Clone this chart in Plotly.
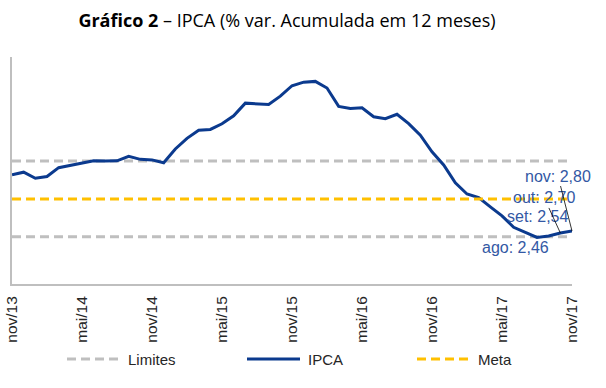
import plotly.graph_objects as go

months = ["nov/13", "dez/13",
          "jan/14", "fev/14", "mar/14", "abr/14", "mai/14", "jun/14", "jul/14", "ago/14", "set/14", "out/14", "nov/14", "dez/14",
          "jan/15", "fev/15", "mar/15", "abr/15", "mai/15", "jun/15", "jul/15", "ago/15", "set/15", "out/15", "nov/15", "dez/15",
          "jan/16", "fev/16", "mar/16", "abr/16", "mai/16", "jun/16", "jul/16", "ago/16", "set/16", "out/16", "nov/16", "dez/16",
          "jan/17", "fev/17", "mar/17", "abr/17", "mai/17", "jun/17", "jul/17", "ago/17", "set/17", "out/17", "nov/17"]
ipca = [5.77, 5.91,
        5.59, 5.68, 6.15, 6.28, 6.37, 6.52, 6.50, 6.51, 6.75, 6.59, 6.56, 6.41,
        7.14, 7.70, 8.13, 8.17, 8.47, 8.89, 9.56, 9.53, 9.49, 9.93, 10.48, 10.67,
        10.71, 10.36, 9.39, 9.28, 9.32, 8.84, 8.74, 8.97, 8.48, 7.87, 6.99, 6.29,
        5.35, 4.76, 4.57, 4.08, 3.60, 3.00, 2.71, 2.46, 2.54, 2.70, 2.80]
limite_sup = 6.5
limite_inf = 2.5
meta = 4.5
tick_labels = ["nov/13", "mai/14", "nov/14", "mai/15", "nov/15", "mai/16", "nov/16", "mai/17", "nov/17"]
labelled = [("ago/17", "ago: 2,46"), ("set/17", "set: 2,54"), ("out/17", "out: 2,70"), ("nov/17", "nov: 2,80")]
legend_names = ["Limites", "IPCA", "Meta"]

GRAY = "#BFBFBF"
BLUE = "#0B3A8E"
GOLD = "#FFC000"
LBLUE = "#3358A4"
FONT = "Arial, Liberation Sans, sans-serif"
DASH = "9px,5px"

W, H = 606, 388
L, R, T, B = 12, 34, 57, 104
PW, PH = W - L - R, H - T - B


def px(x):
    return (x - L) / PW


def py(y):
    return (H - B - y) / PH


fig = go.Figure()
fig.add_trace(go.Scatter(x=months, y=[limite_sup] * len(months), mode="lines", name=legend_names[0],
                         line=dict(color=GRAY, width=3, dash=DASH), showlegend=False))
fig.add_trace(go.Scatter(x=months, y=[limite_inf] * len(months), mode="lines", name=legend_names[0],
                         line=dict(color=GRAY, width=3, dash=DASH), showlegend=False))
fig.add_trace(go.Scatter(x=months, y=ipca, mode="lines", name=legend_names[1],
                         line=dict(color=BLUE, width=3), showlegend=False))
fig.add_trace(go.Scatter(x=months, y=[meta] * len(months), mode="lines", name=legend_names[2],
                         line=dict(color=GOLD, width=3, dash=DASH), showlegend=False))

# custom legend (line sample + text), positioned in pixels
leg_y = 359
leg_items = [(legend_names[0], GRAY, DASH, 67, 123, 126),
             (legend_names[1], BLUE, "solid", 247, 300, 306),
             (legend_names[2], GOLD, DASH, 417, 471, 476)]
for name, color, dash, x0, x1, tx in leg_items:
    fig.add_shape(type="line", xref="paper", yref="paper", x0=px(x0), x1=px(x1), y0=py(leg_y), y1=py(leg_y),
                  line=dict(color=color, width=3, dash=dash))
    fig.add_annotation(xref="paper", yref="paper", x=px(tx), y=py(leg_y), xanchor="left", yanchor="middle",
                       text=name, showarrow=False, font=dict(family=FONT, size=15, color="#262626"))

val = dict(zip(months, ipca))
offsets = {"ago/17": (-22, 10, False), "set/17": (-11, -19, False),
           "out/17": (-16, -35, True), "nov/17": (-14, -55, True)}
for m, txt in labelled:
    ax, ay, arrow = offsets[m]
    if arrow:
        fig.add_annotation(x=m, y=val[m], text=txt, showarrow=True, arrowhead=0, arrowwidth=0.8,
                           arrowcolor="#000000", ax=ax, ay=ay, standoff=0,
                           font=dict(family=FONT, size=16, color=LBLUE))
    else:
        fig.add_annotation(x=m, y=val[m], text=txt, showarrow=False, xshift=ax, yshift=-ay,
                           font=dict(family=FONT, size=16, color=LBLUE))

fig.update_layout(
    width=W, height=H,
    margin=dict(l=L, r=R, t=T, b=B, autoexpand=False),
    paper_bgcolor="white", plot_bgcolor="white",
    title=dict(text="<b>Gráfico 2</b> – IPCA (% var. Acumulada em 12 meses)",
               x=287 / W, xanchor="center", xref="container", y=1 - 21 / H, yanchor="middle",
               font=dict(family="Open Sans, sans-serif", size=18, color="#000000")),
    showlegend=False,
    xaxis=dict(type="category", range=[0, len(months) - 1], tickmode="array",
               tickvals=tick_labels, ticktext=tick_labels, tickangle=-90, automargin=False,
               showgrid=False, zeroline=False, showline=True, linecolor=GRAY, linewidth=2,
               ticks="", ticklabelstandoff=4, tickfont=dict(family=FONT, size=15.5, color="#262626")),
    yaxis=dict(range=[0, 12], showgrid=False, zeroline=False, showline=True, linecolor=GRAY,
               linewidth=2, showticklabels=False, ticks="", automargin=False),
)

fig.write_html("out.html", config={"displayModeBar": False},
               post_script="document.body.style.margin='0';")
